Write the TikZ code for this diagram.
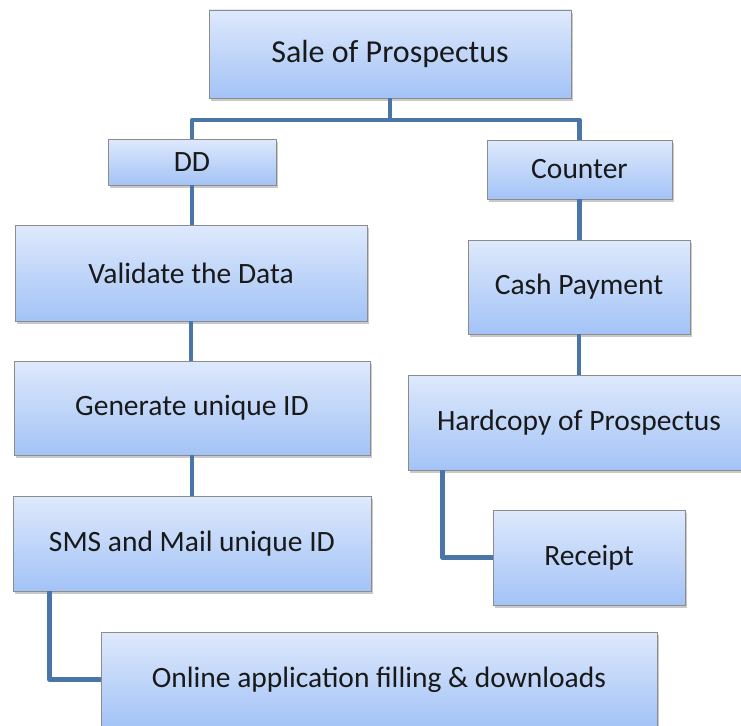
\documentclass[tikz,border=0pt]{standalone}
\usepackage{fontspec}
\setmainfont{Carlito}
\usetikzlibrary{shadows}
\definecolor{boxtop}{RGB}{222,233,252}
\definecolor{boxbot}{RGB}{163,195,246}
\definecolor{boxline}{RGB}{140,140,140}
\definecolor{conncol}{RGB}{74,117,168}
\tikzset{
  box/.style={rectangle, draw=boxline, line width=0.8pt, top color=boxtop, bottom color=boxbot,
    drop shadow={shadow xshift=2pt, shadow yshift=-3pt, opacity=0.35, fill=black!60},
    font=\fontsize{29.5}{34}\selectfont, text=black!90, inner sep=0pt},
  conn/.style={draw=conncol, line width=4.5pt, line join=round}
}
\begin{document}
\begin{tikzpicture}[x=1pt, y=-1pt]
\useasboundingbox (0,0) rectangle (741,725);
\clip (0,0) rectangle (741,725);
\fill[white] (0,0) rectangle (741,725);
\coordinate (bus) at (0,120);
\node[box, minimum width=362pt, minimum height=88pt, font=\fontsize{32}{38}\selectfont] (sale) at (390,54) {Sale of Prospectus};
\node[box, minimum width=168pt, minimum height=46pt] (dd) at (192,162) {DD};
\node[box, minimum width=185pt, minimum height=59pt] (counter) at (579.5,169.5) {Counter};
\node[box, minimum width=352pt, minimum height=96pt] (validate) at (191,273) {Validate the Data};
\node[box, minimum width=222pt, minimum height=94pt] (cash) at (579,287) {Cash Payment};
\node[box, minimum width=356pt, minimum height=94pt] (generate) at (192,408) {Generate unique ID};
\node[box, minimum width=342pt, minimum height=95pt] (hardcopy) at (579,422.5) {Hardcopy of Prospectus};
\node[box, minimum width=358pt, minimum height=95pt] (sms) at (192,543.5) {SMS and Mail unique ID};
\node[box, minimum width=192pt, minimum height=95pt] (receipt) at (589,557.5) {Receipt};
\node[box, minimum width=556pt, minimum height=95pt] (online) at (379,679.5) {Online application filling \& downloads};
\draw[conn] (sale.south) -- (sale.south |- bus);
\draw[conn] (dd.north) |- (sale.south |- bus) -| (counter.north);
\draw[conn] (dd.south) -- (dd.south |- validate.north);
\draw[conn] (validate.south) -- (validate.south |- generate.north);
\draw[conn] (generate.south) -- (generate.south |- sms.north);
\draw[conn] ([xshift=37pt]sms.south west) |- (online.west);
\draw[conn] (counter.south) -- (counter.south |- cash.north);
\draw[conn] (cash.south) -- (cash.south |- hardcopy.north);
\draw[conn] ([xshift=35pt]hardcopy.south west) |- (receipt.west);
\end{tikzpicture}
\end{document}
